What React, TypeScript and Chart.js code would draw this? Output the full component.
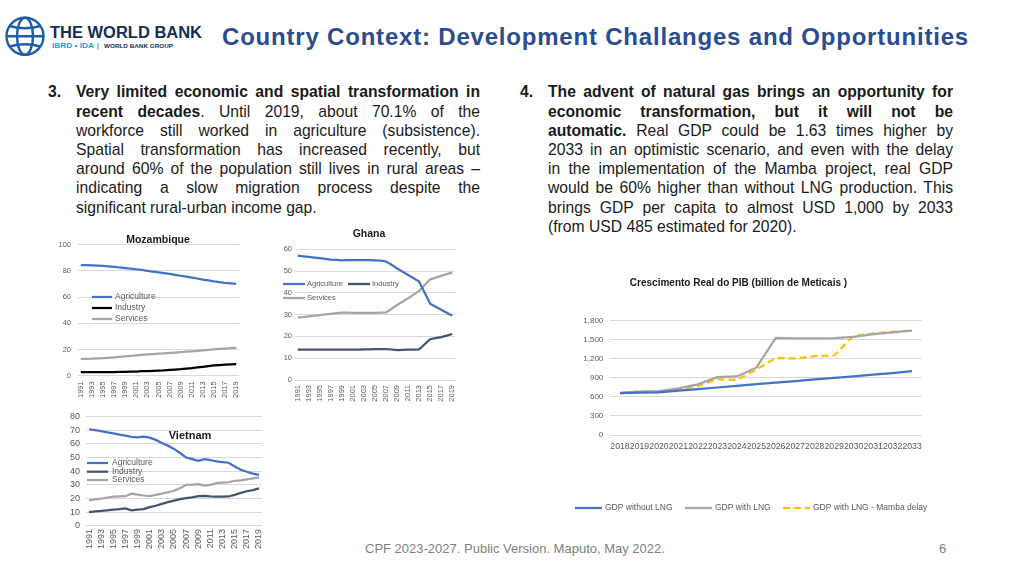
import React, { useEffect, useRef } from 'react';
import { Chart, registerables } from 'chart.js';

Chart.register(...registerables);

const FONT = '"Liberation Sans", Arial, Helvetica, sans-serif';
const BLUE = '#4472C4';
const GRAY = '#A5A5A5';
const DARK = '#44546A';
const BLACK = '#000000';
const GOLD = '#FFC000';
const TICK = '#595959';
const GRID = '#D9D9D9';

const years = ['1991', '1992', '1993', '1994', '1995', '1996', '1997', '1998', '1999', '2000', '2001', '2002', '2003', '2004', '2005', '2006', '2007', '2008', '2009', '2010', '2011', '2012', '2013', '2014', '2015', '2016', '2017', '2018', '2019'];

const mozAgriculture = [84.5, 84.4, 84.3, 84.1, 83.9, 83.5, 83.1, 82.6, 82.2, 81.7, 81.2, 80.7, 80.1, 79.5, 78.9, 78.3, 77.7, 77.0, 76.3, 75.6, 74.9, 74.2, 73.4, 72.7, 72.0, 71.4, 70.9, 70.5, 70.1];
const mozIndustry = [2.7, 2.7, 2.7, 2.7, 2.7, 2.8, 2.8, 2.9, 3.0, 3.1, 3.2, 3.4, 3.5, 3.7, 3.9, 4.1, 4.4, 4.7, 5.0, 5.4, 5.8, 6.3, 6.8, 7.3, 7.8, 8.1, 8.4, 8.6, 8.8];
const mozServices = [12.8, 12.9, 13.0, 13.2, 13.4, 13.7, 14.0, 14.4, 14.8, 15.2, 15.6, 15.9, 16.2, 16.5, 16.8, 17.1, 17.4, 17.7, 18.0, 18.3, 18.6, 18.9, 19.3, 19.7, 20.1, 20.4, 20.7, 21.0, 21.2];

const ghaAgriculture = [57.1, 56.8, 56.5, 56.2, 55.9, 55.6, 55.3, 55.1, 54.9, 55.0, 55.0, 55.0, 55.0, 55.0, 54.9, 54.8, 54.4, 52.9, 51.2, 49.7, 48.2, 46.7, 45.2, 40.1, 35.0, 33.6, 32.2, 30.9, 29.5];
const ghaIndustry = [13.9, 13.9, 13.9, 14.0, 14.0, 14.0, 14.0, 14.0, 14.0, 14.0, 14.0, 14.0, 14.1, 14.1, 14.2, 14.2, 14.2, 14.0, 13.7, 13.8, 13.9, 14.0, 14.1, 16.4, 18.7, 19.2, 19.7, 20.4, 21.1];
const ghaServices = [28.7, 28.9, 29.2, 29.5, 29.8, 30.1, 30.4, 30.7, 30.9, 30.9, 30.8, 30.8, 30.8, 30.8, 30.8, 30.9, 31.0, 32.7, 34.4, 35.9, 37.5, 39.2, 40.9, 43.6, 46.2, 47.0, 47.8, 48.6, 49.3];

const vnmAgriculture = [70.6, 69.9, 69.2, 68.3, 67.5, 66.7, 65.9, 65.0, 64.7, 65.2, 64.5, 62.8, 60.5, 58.6, 56.2, 53.2, 49.9, 48.7, 47.5, 48.7, 48.0, 47.1, 46.6, 46.1, 43.3, 40.9, 39.5, 38.1, 37.2];
const vnmIndustry = [9.9, 10.4, 10.8, 11.3, 11.8, 12.2, 12.7, 11.3, 11.8, 12.2, 13.6, 14.6, 16.0, 17.2, 18.4, 19.5, 20.2, 20.7, 21.6, 21.9, 21.4, 21.2, 21.2, 21.4, 22.6, 24.0, 25.2, 26.1, 27.3];
const vnmServices = [18.6, 19.2, 19.8, 20.5, 21.2, 21.4, 21.6, 23.5, 22.8, 22.1, 21.6, 22.6, 23.5, 24.5, 25.6, 27.5, 29.9, 30.1, 30.4, 29.4, 29.9, 31.1, 31.5, 31.8, 32.9, 33.2, 33.9, 34.6, 35.3];

const gdpYears = ['2018', '2019', '2020', '2021', '2022', '2023', '2024', '2025', '2026', '2027', '2028', '2029', '2030', '2031', '2032', '2033'];
const gdpWithoutLng = [660, 668, 673, 697, 722, 748, 774, 800, 824, 850, 875, 898, 923, 950, 976, 1005];
const gdpWithLng = [665, 685, 692, 735, 798, 910, 922, 1060, 1530, 1522, 1522, 1525, 1547, 1590, 1617, 1645];
const gdpMambaDelay = [660, 683, 690, 720, 770, 878, 866, 1033, 1212, 1206, 1243, 1252, 1565, 1598, 1624, 1647];

type TextSpec = { text: string; x: number; y: number; font: string; color: string; align?: CanvasTextAlign };
type LegendSpec = { size: number; lineLen: number; gap: number; color: string; items: { x: number; y: number }[] };

function makeAnnot(texts: TextSpec[], legend: LegendSpec) {
  return {
    id: 'annot',
    afterDraw(chart: any) {
      const ctx = chart.ctx as CanvasRenderingContext2D;
      ctx.save();
      ctx.textBaseline = 'middle';
      for (const t of texts) {
        ctx.font = t.font;
        ctx.fillStyle = t.color;
        ctx.textAlign = t.align || 'center';
        ctx.fillText(t.text, t.x, t.y);
      }
      ctx.font = `${legend.size}px ${FONT}`;
      ctx.textAlign = 'left';
      chart.data.datasets.forEach((ds: any, i: number) => {
        const p = legend.items[i];
        if (!p) return;
        ctx.strokeStyle = ds.borderColor;
        ctx.lineWidth = ds.borderWidth;
        ctx.setLineDash(ds.borderDash || []);
        ctx.beginPath();
        ctx.moveTo(p.x, p.y);
        ctx.lineTo(p.x + legend.lineLen, p.y);
        ctx.stroke();
        ctx.setLineDash([]);
        ctx.fillStyle = legend.color;
        ctx.fillText(ds.label, p.x + legend.lineLen + legend.gap, p.y);
      });
      ctx.restore();
    },
  };
}

type CountryOpts = {
  agri: number[]; ind: number[]; serv: number[]; indColor: string; lw: number;
  yMax: number; yStep: number; yWidth: number; yPad: number; ySize: number;
  xHeight: number; xPad: number; xSize: number;
  padding: { left: number; top: number; right: number; bottom: number };
  texts: TextSpec[]; legend: LegendSpec;
};

function countryConfig(o: CountryOpts): any {
  return {
    type: 'line',
    data: {
      labels: years,
      datasets: [
        { label: 'Agriculture', data: o.agri, borderColor: BLUE, backgroundColor: BLUE, borderWidth: o.lw, pointRadius: 0 },
        { label: 'Industry', data: o.ind, borderColor: o.indColor, backgroundColor: o.indColor, borderWidth: o.lw, pointRadius: 0 },
        { label: 'Services', data: o.serv, borderColor: GRAY, backgroundColor: GRAY, borderWidth: o.lw, pointRadius: 0 },
      ],
    },
    options: {
      responsive: false,
      maintainAspectRatio: false,
      animation: false,
      devicePixelRatio: 1,
      layout: { padding: o.padding },
      plugins: { legend: { display: false }, tooltip: { enabled: false }, title: { display: false } },
      scales: {
        x: {
          offset: true,
          grid: { display: false, drawTicks: false },
          border: { display: false },
          ticks: {
            autoSkip: false, minRotation: 90, maxRotation: 90, padding: o.xPad, color: TICK,
            font: { family: FONT, size: o.xSize },
            callback: (_v: any, i: number) => (i % 2 === 0 ? years[i] : ''),
          },
          afterFit: (s: any) => { s.height = o.xHeight; },
        },
        y: {
          min: 0, max: o.yMax,
          grid: { color: GRID, drawTicks: false, lineWidth: 1 },
          border: { display: false },
          ticks: { autoSkip: false, stepSize: o.yStep, padding: o.yPad, color: TICK, font: { family: FONT, size: o.ySize } },
          afterFit: (s: any) => { s.width = o.yWidth; },
        },
      },
    },
    plugins: [makeAnnot(o.texts, o.legend)],
  };
}

function gdpConfig(): any {
  return {
    type: 'line',
    data: {
      labels: gdpYears,
      datasets: [
        { label: 'GDP without LNG', data: gdpWithoutLng, borderColor: BLUE, backgroundColor: BLUE, borderWidth: 2.25, pointRadius: 0 },
        { label: 'GDP with LNG', data: gdpWithLng, borderColor: GRAY, backgroundColor: GRAY, borderWidth: 2.25, pointRadius: 0 },
        { label: 'GDP with LNG - Mamba delay', data: gdpMambaDelay, borderColor: GOLD, backgroundColor: GOLD, borderWidth: 2.25, borderDash: [7, 4], pointRadius: 0 },
      ],
    },
    options: {
      responsive: false,
      maintainAspectRatio: false,
      animation: false,
      devicePixelRatio: 1,
      layout: { padding: { left: 0, top: 50.7, right: 43.2, bottom: 65 } },
      plugins: { legend: { display: false }, tooltip: { enabled: false }, title: { display: false } },
      scales: {
        x: {
          offset: true,
          grid: { display: false, drawTicks: false },
          border: { display: false },
          ticks: { autoSkip: false, minRotation: 0, maxRotation: 0, padding: 6, color: TICK, font: { family: FONT, size: 8.7 } },
          afterFit: (s: any) => { s.height = 20; },
        },
        y: {
          min: 0, max: 1800,
          grid: { color: GRID, drawTicks: false, lineWidth: 1 },
          border: { display: false },
          ticks: {
            autoSkip: false, stepSize: 300, padding: 7, color: TICK, font: { family: FONT, size: 8 },
            callback: (v: any) => Number(v).toLocaleString('en-US'),
          },
          afterFit: (s: any) => { s.width = 45.3; },
        },
      },
    },
    plugins: [
      makeAnnot(
        [{ text: 'Crescimento Real do PIB (billion de Meticais )', x: 173.5, y: 13, font: `bold 10px ${FONT}`, color: '#1a1a1a' }],
        { size: 8.5, lineLen: 27, gap: 3, color: TICK, items: [{ x: 10, y: 238 }, { x: 120, y: 238 }, { x: 218, y: 238 }] },
      ),
    ],
  };
}

function ChartBox({ left, top, width, height, make }: { left: number; top: number; width: number; height: number; make: () => any }) {
  const ref = useRef<HTMLCanvasElement>(null);
  useEffect(() => {
    const chart = new Chart(ref.current as HTMLCanvasElement, make());
    return () => chart.destroy();
  }, []);
  return <canvas ref={ref} width={width} height={height} style={{ position: 'absolute', left, top, width, height }} />;
}

const lineStyle: React.CSSProperties = { height: 19.2, textAlign: 'justify', textAlignLast: 'justify' as any, whiteSpace: 'nowrap' };
const lastLine: React.CSSProperties = { height: 19.2, textAlign: 'left', whiteSpace: 'nowrap' };

function Para({ left, top, width, num, lines }: { left: number; top: number; width: number; num: string; lines: React.ReactNode[] }) {
  return (
    <>
      <div style={{ position: 'absolute', left: left - 28, top, fontWeight: 'bold', fontSize: 15.7, lineHeight: '19.2px', color: '#1a1a1a' }}>{num}</div>
      <div style={{ position: 'absolute', left, top, width, fontSize: 15.7, lineHeight: '19.2px', color: '#1a1a1a' }}>
        {lines.map((l, i) => (
          <div key={i} style={i === lines.length - 1 ? lastLine : lineStyle}>{l}</div>
        ))}
      </div>
    </>
  );
}

export default function App() {
  return (
    <div style={{ position: 'fixed', left: 0, top: 0, width: 1024, height: 576, background: '#ffffff', fontFamily: FONT, overflow: 'hidden' }}>
      <svg style={{ position: 'absolute', left: 0, top: 0 }} width={215} height={70}>
        <g fill="none" stroke="#1E5DA8" strokeWidth={2.4}>
          <circle cx={25} cy={36.2} r={18.5} />
          <ellipse cx={25} cy={36.2} rx={8} ry={18.5} />
          <path d="M6.5 36.2 H43.5" />
          <path d="M9.5 26 Q25 30.5 40.5 26" />
          <path d="M9.5 46.5 Q25 42 40.5 46.5" />
        </g>
        <text x={50} y={37.7} fontFamily={FONT} fontWeight="bold" fontSize={16.8} fill="#0F2F57" textLength={152} lengthAdjust="spacingAndGlyphs">THE WORLD BANK</text>
        <text x={52} y={48} fontFamily={FONT} fontWeight="bold" fontSize={6.5} fill="#20A0DA" textLength={42} lengthAdjust="spacingAndGlyphs">IBRD • IDA</text>
        <text x={97} y={48} fontFamily={FONT} fontSize={7} fill="#0F2F57">|</text>
        <text x={104} y={48} fontFamily={FONT} fontWeight="bold" fontSize={6} fill="#0F2F57" textLength={69} lengthAdjust="spacingAndGlyphs">WORLD BANK GROUP</text>
      </svg>
      <div style={{ position: 'absolute', left: 222, top: 23, fontSize: 24, lineHeight: '28px', fontWeight: 'bold', color: '#2B4C8F', whiteSpace: 'nowrap', letterSpacing: 0.8 }}>
        Country Context: Development Challanges and Opportunities
      </div>

      <Para
        left={76}
        top={82.4}
        width={404}
        num="3."
        lines={[
          <b>Very limited economic and spatial transformation in</b>,
          <span><b>recent decades</b>. Until 2019, about 70.1% of the</span>,
          'workforce still worked in agriculture (subsistence).',
          'Spatial transformation has increased recently, but',
          'around 60% of the population still lives in rural areas –',
          'indicating a slow migration process despite the',
          'significant rural-urban income gap.',
        ]}
      />
      <Para
        left={548}
        top={82.4}
        width={405}
        num="4."
        lines={[
          <b>The advent of natural gas brings an opportunity for</b>,
          <b>economic transformation, but it will not be</b>,
          <span><b>automatic.</b> Real GDP could be 1.63 times higher by</span>,
          '2033 in an optimistic scenario, and even with the delay',
          'in the implementation of the Mamba project, real GDP',
          'would be 60% higher than without LNG production. This',
          'brings GDP per capita to almost USD 1,000 by 2033',
          '(from USD 485 estimated for 2020).',
        ]}
      />

      <ChartBox
        left={30} top={228} width={230} height={185}
        make={() => countryConfig({
          agri: mozAgriculture, ind: mozIndustry, serv: mozServices, indColor: BLACK, lw: 2.25,
          yMax: 100, yStep: 20, yWidth: 48, yPad: 7, ySize: 7.5,
          xHeight: 37, xPad: 5.6, xSize: 7.5,
          padding: { left: 0, top: 16.7, right: 21, bottom: 0.3 },
          texts: [{ text: 'Mozambique', x: 128, y: 12, font: `bold 10.5px ${FONT}`, color: '#1a1a1a' }],
          legend: { size: 8.5, lineLen: 20, gap: 3, color: TICK, items: [{ x: 62, y: 69 }, { x: 62, y: 80 }, { x: 62, y: 91 }] },
        })}
      />
      <ChartBox
        left={270} top={225} width={200} height={185}
        make={() => countryConfig({
          agri: ghaAgriculture, ind: ghaIndustry, serv: ghaServices, indColor: DARK, lw: 2.25,
          yMax: 60, yStep: 10, yWidth: 25, yPad: 3, ySize: 7.5,
          xHeight: 30, xPad: 5, xSize: 7.5,
          padding: { left: 0, top: 24.3, right: 15, bottom: 0 },
          texts: [{ text: 'Ghana', x: 99, y: 9, font: `bold 10.5px ${FONT}`, color: '#1a1a1a' }],
          legend: { size: 7.5, lineLen: 22, gap: 2, color: TICK, items: [{ x: 13, y: 59 }, { x: 78, y: 59 }, { x: 13, y: 73 }] },
        })}
      />
      <ChartBox
        left={55} top={405} width={220} height={150}
        make={() => countryConfig({
          agri: vnmAgriculture, ind: vnmIndustry, serv: vnmServices, indColor: DARK, lw: 2.25,
          yMax: 80, yStep: 10, yWidth: 31, yPad: 6, ySize: 9,
          xHeight: 29.3, xPad: 3.3, xSize: 9,
          padding: { left: 0, top: 7.3, right: 13, bottom: 0 },
          texts: [{ text: 'Vietnam', x: 135, y: 31, font: `bold 11px ${FONT}`, color: '#1a1a1a' }],
          legend: { size: 8.5, lineLen: 21, gap: 4, color: TICK, items: [{ x: 32, y: 58 }, { x: 32, y: 66.7 }, { x: 32, y: 75 }] },
        })}
      />
      <ChartBox left={565} top={270} width={400} height={250} make={gdpConfig} />

      <div style={{ position: 'absolute', left: 365, top: 541, fontSize: 13, lineHeight: '16px', color: '#808080', whiteSpace: 'nowrap' }}>
        CPF 2023-2027. Public Version. Maputo, May 2022.
      </div>
      <div style={{ position: 'absolute', left: 939, top: 541, fontSize: 13, lineHeight: '16px', color: '#808080' }}>6</div>
    </div>
  );
}
